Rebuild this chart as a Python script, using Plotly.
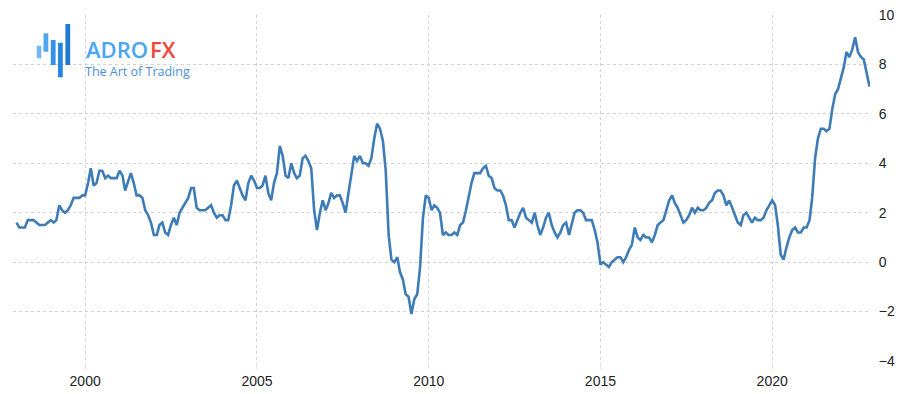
import plotly.graph_objects as go
import pandas as pd

# US CPI inflation rate, YoY %, monthly Jan 1998 - Nov 2022
y1998 = [1.6, 1.4, 1.4, 1.4, 1.7, 1.7, 1.7, 1.6, 1.5, 1.5, 1.5, 1.6]
y1999 = [1.7, 1.6, 1.7, 2.3, 2.1, 2.0, 2.1, 2.3, 2.6, 2.6, 2.6, 2.7]
y2000 = [2.7, 3.2, 3.8, 3.1, 3.2, 3.7, 3.7, 3.4, 3.5, 3.4, 3.4, 3.4]
y2001 = [3.7, 3.5, 2.9, 3.3, 3.6, 3.2, 2.7, 2.7, 2.6, 2.1, 1.9, 1.6]
y2002 = [1.1, 1.1, 1.5, 1.6, 1.2, 1.1, 1.5, 1.8, 1.5, 2.0, 2.2, 2.4]
y2003 = [2.6, 3.0, 3.0, 2.2, 2.1, 2.1, 2.1, 2.2, 2.3, 2.0, 1.8, 1.9]
y2004 = [1.9, 1.7, 1.7, 2.3, 3.1, 3.3, 3.0, 2.7, 2.5, 3.2, 3.5, 3.3]
y2005 = [3.0, 3.0, 3.1, 3.5, 2.8, 2.5, 3.2, 3.6, 4.7, 4.3, 3.5, 3.4]
y2006 = [4.0, 3.6, 3.4, 3.5, 4.2, 4.3, 4.1, 3.8, 2.1, 1.3, 2.0, 2.5]
y2007 = [2.1, 2.4, 2.8, 2.6, 2.7, 2.7, 2.4, 2.0, 2.8, 3.5, 4.3, 4.1]
y2008 = [4.3, 4.0, 4.0, 3.9, 4.2, 5.0, 5.6, 5.4, 4.9, 3.7, 1.1, 0.1]
y2009 = [0.0, 0.2, -0.4, -0.7, -1.3, -1.4, -2.1, -1.5, -1.3, -0.2, 1.8, 2.7]
y2010 = [2.6, 2.1, 2.3, 2.2, 2.0, 1.1, 1.2, 1.1, 1.1, 1.2, 1.1, 1.5]
y2011 = [1.6, 2.1, 2.7, 3.2, 3.6, 3.6, 3.6, 3.8, 3.9, 3.5, 3.4, 3.0]
y2012 = [2.9, 2.9, 2.7, 2.3, 1.7, 1.7, 1.4, 1.7, 2.0, 2.2, 1.8, 1.7]
y2013 = [1.6, 2.0, 1.5, 1.1, 1.4, 1.8, 2.0, 1.5, 1.2, 1.0, 1.2, 1.5]
y2014 = [1.6, 1.1, 1.5, 2.0, 2.1, 2.1, 2.0, 1.7, 1.7, 1.7, 1.3, 0.8]
y2015 = [-0.1, 0.0, -0.1, -0.2, 0.0, 0.1, 0.2, 0.2, 0.0, 0.2, 0.5, 0.7]
y2016 = [1.4, 1.0, 0.9, 1.1, 1.0, 1.0, 0.8, 1.1, 1.5, 1.6, 1.7, 2.1]
y2017 = [2.5, 2.7, 2.4, 2.2, 1.9, 1.6, 1.7, 1.9, 2.2, 2.0, 2.2, 2.1]
y2018 = [2.1, 2.2, 2.4, 2.5, 2.8, 2.9, 2.9, 2.7, 2.3, 2.5, 2.2, 1.9]
y2019 = [1.6, 1.5, 1.9, 2.0, 1.8, 1.6, 1.8, 1.7, 1.7, 1.8, 2.1, 2.3]
y2020 = [2.5, 2.3, 1.5, 0.3, 0.1, 0.6, 1.0, 1.3, 1.4, 1.2, 1.2, 1.4]
y2021 = [1.4, 1.7, 2.6, 4.2, 5.0, 5.4, 5.4, 5.3, 5.4, 6.2, 6.8, 7.0]
y2022 = [7.5, 7.9, 8.5, 8.3, 8.6, 9.1, 8.5, 8.3, 8.2, 7.7, 7.1]

x_tick_vals = ["2000-01-01", "2005-01-01", "2010-01-01", "2015-01-01", "2020-01-01"]
x_tick_text = ["2000", "2005", "2010", "2015", "2020"]
y_tick_vals = [-4, -2, 0, 2, 4, 6, 8, 10]

values = (y1998 + y1999 + y2000 + y2001 + y2002 + y2003 + y2004 + y2005 + y2006
          + y2007 + y2008 + y2009 + y2010 + y2011 + y2012 + y2013 + y2014 + y2015
          + y2016 + y2017 + y2018 + y2019 + y2020 + y2021 + y2022)
dates = pd.date_range("1998-01-01", periods=len(values), freq="MS")

L, R, T, B = 13, 34, 15, 33
W, H = 904, 394
PW, PH = W - L - R, H - T - B

fig = go.Figure()
fig.add_trace(go.Scatter(x=dates, y=values, mode="lines",
                         line=dict(color="#3d7cb6", width=2.6), hoverinfo="x+y"))

tick_font = dict(family="Liberation Sans, Arial, sans-serif", size=14, color="#222222")

fig.update_layout(
    width=W, height=H,
    margin=dict(l=L, r=R, t=T, b=B, autoexpand=False),
    paper_bgcolor="white", plot_bgcolor="white",
    showlegend=False,
    xaxis=dict(range=["1997-11-25", "2022-11-06"], tickvals=x_tick_vals, ticktext=x_tick_text,
               showgrid=True, gridcolor="#d2d2d2", griddash="dot", gridwidth=1,
               ticks="outside", ticklen=7, tickcolor="#e0e0e0", tickwidth=1,
               showline=False, zeroline=False, tickfont=tick_font, automargin=False),
    yaxis=dict(range=[-4, 10], tickvals=y_tick_vals, side="right",
               showgrid=True, gridcolor="#d2d2d2", griddash="dot", gridwidth=1,
               ticks="outside", ticklen=5, tickcolor="rgba(0,0,0,0)",
               showline=False, zeroline=False, tickfont=tick_font, automargin=False),
)


def px_x(x):
    return (x - L) / PW


def px_y(y):
    return (H - B - y) / PH


# Logo bars
bars = [(36.7, 41.3, 45.7, 58.3, "#72b8f4"),
        (43.5, 48.3, 33.3, 51.7, "#4ea6f0"),
        (50.8, 55.6, 40.0, 65.0, "#3391ea"),
        (58.0, 62.8, 42.7, 77.3, "#2a86e0"),
        (65.4, 70.2, 24.0, 65.0, "#2079d2")]
for x0, x1, y0, y1, c in bars:
    fig.add_shape(type="rect", xref="paper", yref="paper",
                  x0=px_x(x0), x1=px_x(x1), y0=px_y(y1), y1=px_y(y0),
                  fillcolor=c, line_width=0, layer="above")

logo_font = "Open Sans, Noto Sans, sans-serif"
fig.add_annotation(x=px_x(84), y=px_y(49.5), xref="paper", yref="paper", text="ADRO",
                   showarrow=False, xanchor="left", yanchor="middle",
                   font=dict(family=logo_font, size=22, color="#4aa5f3", weight=600))
fig.add_annotation(x=px_x(148), y=px_y(49.5), xref="paper", yref="paper", text="FX",
                   showarrow=False, xanchor="left", yanchor="middle",
                   font=dict(family=logo_font, size=22, color="#f0473a", weight=600))
fig.add_annotation(x=px_x(83), y=px_y(71), xref="paper", yref="paper", text="The Art of Trading",
                   showarrow=False, xanchor="left", yanchor="middle",
                   font=dict(family=logo_font, size=12.5, color="#4a8fd8"))

fig.write_html("out.html", config={"displayModeBar": False},
               post_script="document.body.style.margin='0';")
